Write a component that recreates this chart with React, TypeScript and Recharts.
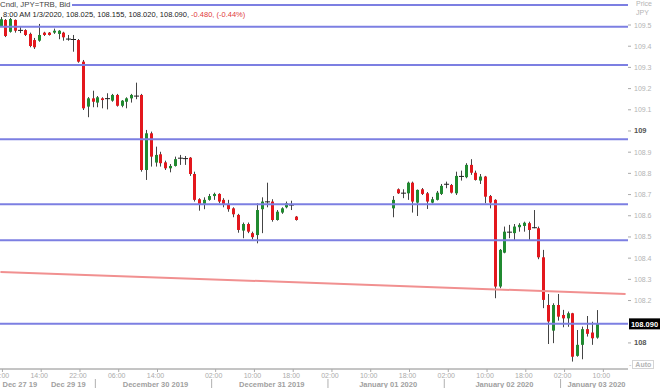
import React from "react"
import { Bar, ComposedChart, ReferenceLine, XAxis, YAxis } from "recharts"

// hourly slots, 0 = Dec 27 06:00 (weekend squeezed out, Jan 1 has no quotes)
const hours = [
  0, 1, 2, 3, 4, 5, 6, 7, 8, 9, 10, 11, 12, 13, 14, 15, 16, 17, 18, 19, 20,
  21, 22, 23, 24, 25, 26, 27, 28, 29, 30, 31, 32, 33, 34, 35, 36, 37, 38, 39, 40,
  41, 42, 43, 44, 45, 46, 47, 48, 49, 50, 51, 52, 53, 54, 55, 56, 57, 58, 59, 60, 61,
  81, 82, 83, 84, 85, 86, 87, 88, 89, 90, 91, 92, 93, 94, 95, 96, 97, 98, 99, 100,
  101, 102, 103, 104, 105, 106, 107, 108, 109, 110, 111, 112, 113, 114, 115, 116,
  117, 118, 119, 120, 121, 122, 123,
]
const opens = [
  109.495, 109.524, 109.468, 109.524, 109.477, 109.476, 109.458, 109.429, 109.426, 109.464,
  109.464, 109.464, 109.458, 109.464, 109.436, 109.434, 109.429, 109.327, 109.115, 109.154,
  109.134, 109.154, 109.155, 109.143, 109.17, 109.119, 109.138, 109.154, 109.165, 109.17,
  108.816, 108.989, 108.851, 108.89, 108.852, 108.824, 108.835, 108.867, 108.87, 108.874,
  108.797, 108.678, 108.656, 108.675, 108.693, 108.703, 108.675, 108.651, 108.635, 108.604,
  108.53, 108.561, 108.518, 108.509, 108.631, 108.668, 108.667, 108.58, 108.615, 108.64,
  108.651, 108.596,
  108.635, 108.725, 108.709, 108.706, 108.756, 108.662, 108.725, 108.706, 108.662, 108.675,
  108.703, 108.749, 108.745, 108.706, 108.788, 108.782, 108.84, 108.803, 108.766, 108.785,
  108.693, 108.675, 108.266, 108.426, 108.525, 108.518, 108.546, 108.552, 108.565, 108.546,
  108.541, 108.404, 108.179, 108.058, 108.179, 108.132, 108.116, 108.14, 107.939, 107.991,
  108.065, 108.049, 108.025,
]
const highs = [
  109.538, 109.528, 109.533, 109.526, 109.491, 109.48, 109.464, 109.439, 109.505, 109.468,
  109.467, 109.483, 109.476, 109.468, 109.453, 109.453, 109.434, 109.335, 109.16, 109.19,
  109.165, 109.159, 109.178, 109.175, 109.175, 109.146, 109.159, 109.175, 109.228, 109.175,
  109.005, 108.997, 108.926, 108.902, 108.86, 108.844, 108.879, 108.887, 108.882, 108.877,
  108.808, 108.683, 108.687, 108.703, 108.709, 108.706, 108.683, 108.675, 108.64, 108.609,
  108.568, 108.568, 108.525, 108.659, 108.687, 108.756, 108.678, 108.627, 108.64, 108.667,
  108.671, 108.599,
  108.693, 108.729, 108.725, 108.761, 108.761, 108.724, 108.731, 108.712, 108.689, 108.717,
  108.75, 108.761, 108.75, 108.808, 108.813, 108.848, 108.867, 108.813, 108.797, 108.788,
  108.698, 108.678, 108.443, 108.549, 108.557, 108.561, 108.565, 108.572, 108.572, 108.627,
  108.549, 108.439, 108.231, 108.187, 108.231, 108.156, 108.148, 108.142, 108.061, 108.077,
  108.127, 108.1, 108.155,
]
const lows = [
  109.491, 109.443, 109.464, 109.464, 109.462, 109.448, 109.395, 109.387, 109.421, 109.448,
  109.45, 109.458, 109.433, 109.426, 109.426, 109.374, 109.322, 109.099, 109.065, 109.112,
  109.112, 109.107, 109.102, 109.138, 109.115, 109.112, 109.107, 109.134, 109.15, 108.808,
  108.769, 108.832, 108.832, 108.832, 108.816, 108.805, 108.832, 108.84, 108.84, 108.788,
  108.667, 108.624, 108.631, 108.671, 108.675, 108.659, 108.64, 108.619, 108.593, 108.52,
  108.494, 108.518, 108.489, 108.47, 108.518, 108.64, 108.572, 108.577, 108.609, 108.635,
  108.627, 108.577,
  108.593, 108.703, 108.683, 108.675, 108.615, 108.599, 108.698, 108.632, 108.658, 108.672,
  108.698, 108.73, 108.705, 108.698, 108.766, 108.777, 108.793, 108.766, 108.75, 108.659,
  108.635, 108.211, 108.258, 108.423, 108.494, 108.483, 108.525, 108.525, 108.486, 108.541,
  108.395, 108.164, 107.995, 107.999, 108.105, 108.074, 108.076, 107.912, 107.935, 107.923,
  108.03, 107.991, 108.02,
]
const closes = [
  109.527, 109.448, 109.528, 109.473, 109.475, 109.453, 109.401, 109.395, 109.453, 109.453,
  109.453, 109.473, 109.473, 109.442, 109.434, 109.432, 109.327, 109.107, 109.154, 109.138,
  109.159, 109.146, 109.153, 109.17, 109.119, 109.143, 109.154, 109.17, 109.167, 108.816,
  108.989, 108.879, 108.887, 108.848, 108.824, 108.835, 108.867, 108.874, 108.872, 108.797,
  108.675, 108.656, 108.675, 108.693, 108.703, 108.667, 108.651, 108.631, 108.607, 108.533,
  108.561, 108.525, 108.499, 108.627, 108.667, 108.666, 108.58, 108.619, 108.635, 108.659,
  108.653, 108.58,
  108.675, 108.706, 108.707, 108.756, 108.667, 108.722, 108.703, 108.667, 108.678, 108.709,
  108.741, 108.751, 108.709, 108.788, 108.783, 108.84, 108.803, 108.769, 108.785, 108.69,
  108.662, 108.266, 108.439, 108.525, 108.518, 108.549, 108.557, 108.567, 108.533, 108.545,
  108.404, 108.203, 108.101, 108.179, 108.124, 108.116, 108.14, 107.935, 107.991, 108.065,
  108.043, 108.022, 108.09,
]

const slotCount = 130
const priceTicks = [108, 108.2, 108.3, 108.4, 108.5, 108.6, 108.7, 108.8, 108.9, 109, 109.1, 109.2, 109.3, 109.4, 109.5]
const timeTicks = [0, 8, 16, 24, 32, 44, 52, 60, 68, 76, 84, 92, 100, 108, 116, 124]
const timeLabels = [
  "06:00", "14:00", "22:00", "06:00", "14:00", "02:00", "10:00", "18:00",
  "02:00", "10:00", "18:00", "02:00", "10:00", "18:00", "02:00", "10:00",
]
const dateTicks = [4, 14, 32, 56, 80, 104, 123]
const dateLabels = [
  "Dec 27 19", "Dec 29 19", "December 30 2019", "December 31 2019",
  "January 01 2020", "January 02 2020", "January 03 2020",
]
const daySeparators = [20, 44, 68, 92, 116]
const levelLines = [109.594, 109.492, 109.311, 108.961, 108.654, 108.484]
const lastPrice = 108.09
const trendStart = 108.335
const trendEnd = 108.231

const FONT = "'Liberation Sans', Arial, sans-serif"
const UP = "#208a30"
const DOWN = "#e3171d"
const LEVEL = "#7c7fe2"

const rows = Array.from({ length: slotCount }, (_, h) => {
  const i = hours.indexOf(h)
  if (i < 0) return { h }
  return { h, o: opens[i], hi: highs[i], lo: lows[i], c: closes[i], range: [lows[i], highs[i]] }
})

const axisTicks = Array.from(new Set([...timeTicks, ...dateTicks, ...daySeparators])).sort((a, b) => a - b)

const Candle = (props: any) => {
  const { x, y, width, height, payload } = props
  if (!payload || payload.c == null || !isFinite(y)) return null
  const { o, c, hi, lo } = payload
  const cx = Math.round(x + width / 2) + 0.5
  const k = height / (hi - lo)
  const yo = y + (hi - o) * k
  const yc = y + (hi - c) * k
  const top = Math.min(yo, yc)
  const bh = Math.abs(yc - yo)
  return (
    <g>
      <line x1={cx} x2={cx} y1={y} y2={y + height} stroke="#444" strokeWidth={1} />
      {bh < 1.5 ? (
        <rect x={cx - 2.5} y={top} width={5} height={1} fill="#222" />
      ) : (
        <rect x={cx - 1.5} y={top} width={3} height={bh} fill={c >= o ? UP : DOWN} />
      )}
    </g>
  )
}

// one bottom axis: time labels on the first row, day names and separators below
const BottomTick = ({ x, payload }: any) => {
  const v = payload.value
  const ti = timeTicks.indexOf(v)
  const di = dateTicks.indexOf(v)
  return (
    <g>
      {ti >= 0 && (
        <g>
          <line x1={x + 2} x2={x + 2} y1={369} y2={372} stroke="#aaa" />
          <text x={x} y={378} textAnchor="middle" fontSize={7} fontFamily={FONT} fill="#ababab">
            {timeLabels[ti]}
          </text>
        </g>
      )}
      {daySeparators.includes(v) && <line x1={x - 2} x2={x - 2} y1={379} y2={388} stroke="#b0b0b0" />}
      {di >= 0 && (
        <text x={x} y={386.5} textAnchor="middle" fontSize={7.5} fontWeight="bold" fontFamily={FONT} fill="#a0a0a0">
          {dateLabels[di]}
        </text>
      )}
    </g>
  )
}

const PriceTick = ({ x, y, payload }: any) => {
  const v = payload.value
  const whole = Math.abs(v - Math.round(v)) < 1e-6
  return (
    <text
      x={x}
      y={y + 2.5}
      fontSize={whole ? 7.5 : 7}
      fontFamily={FONT}
      fontWeight={whole ? "bold" : "normal"}
      fill={whole ? "#555" : "#b4b4b4"}
    >
      {whole ? String(Math.round(v)) : v.toFixed(1)}
    </text>
  )
}

const LastPriceBox = ({ viewBox }: any) => {
  if (!viewBox) return null
  const bx = viewBox.x + viewBox.width + 1
  return (
    <g>
      <rect x={bx} y={viewBox.y - 5.5} width={31} height={11} fill="#000" />
      <text x={bx + 15.5} y={viewBox.y + 3} textAnchor="middle" fontSize={7.5} fontWeight="bold" fontFamily={FONT} fill="#fff">
        {lastPrice.toFixed(3)}
      </text>
    </g>
  )
}

export default function App() {
  return (
    <div style={{ position: "absolute", left: 0, top: 0, width: 660, height: 388, background: "#fff", fontFamily: FONT }}>
      <ComposedChart
        width={660}
        height={388}
        data={rows}
        margin={{ top: 0, right: 0, left: -2, bottom: 0 }}
        barCategoryGap={0}
      >
        <XAxis
          xAxisId="t"
          dataKey="h"
          ticks={axisTicks}
          interval={0}
          height={19}
          axisLine={{ stroke: "#8a8a8a" }}
          tickLine={false}
          tick={<BottomTick />}
        />
        <YAxis
          yAxisId="p"
          orientation="right"
          type="number"
          domain={[107.877, 109.618]}
          ticks={priceTicks}
          interval={0}
          allowDataOverflow
          width={32}
          axisLine={false}
          tickLine={{ stroke: "#aaa" }}
          tickSize={3}
          tickMargin={3}
          tick={<PriceTick />}
        />
        {levelLines.map((v) => (
          <ReferenceLine key={v} xAxisId="t" yAxisId="p" y={v} stroke={LEVEL} strokeWidth={2} />
        ))}
        <ReferenceLine
          xAxisId="t"
          yAxisId="p"
          segment={[{ x: 0, y: trendStart }, { x: slotCount - 1, y: trendEnd }]}
          stroke="#f19090"
          strokeWidth={2}
        />
        <ReferenceLine
          xAxisId="t"
          yAxisId="p"
          y={lastPrice}
          stroke={LEVEL}
          strokeWidth={2}
          label={<LastPriceBox />}
        />
        <Bar xAxisId="t" yAxisId="p" dataKey="range" shape={<Candle />} isAnimationActive={false} />
      </ComposedChart>

      <div style={{ position: "absolute", left: 0, top: 0, fontSize: 7.8, lineHeight: "10px", color: "#444", background: "#fff", paddingRight: 2 }}>
        Cndl, JPY=TRB, Bid
      </div>
      <div style={{ position: "absolute", left: 3, top: 10, fontSize: 7.5, lineHeight: "10px", color: "#222", whiteSpace: "nowrap" }}>
        8:00 AM 1/3/2020, 108.025, 108.155, 108.020, 108.090, <span style={{ color: "#e03a3a" }}>-0.480, (-0.44%)</span>
      </div>
      <div style={{ position: "absolute", left: 636, top: -1, fontSize: 7, lineHeight: "9px", color: "#b4b4b4" }}>
        Price
        <br />
        JPY
      </div>
      <div style={{ position: "absolute", left: 629, top: 360, fontSize: 7, lineHeight: "9px", color: "#b4b4b4", whiteSpace: "nowrap" }}>
        -<span style={{ border: "1px solid #d4d4d4", padding: "0 2px", marginLeft: 1, fontWeight: "bold" }}>Auto</span>
      </div>
    </div>
  )
}
